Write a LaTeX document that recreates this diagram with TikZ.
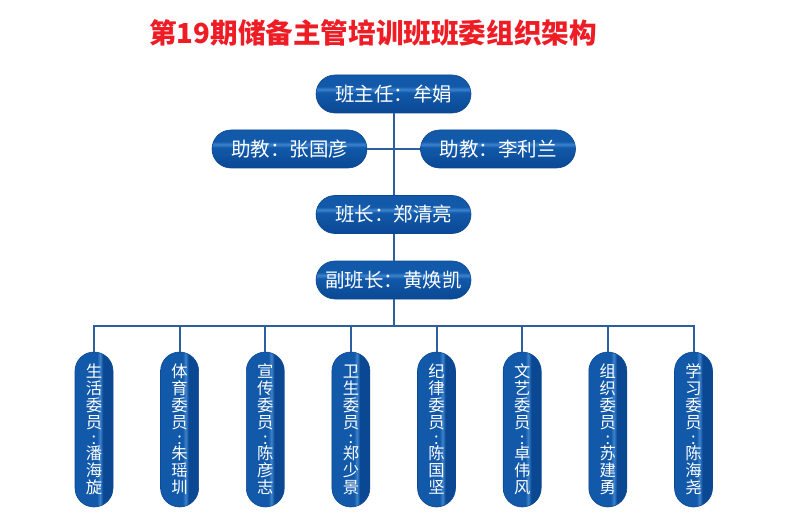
\documentclass[tikz,border=0pt]{standalone}
\usepackage{fontspec}
\newfontfamily\cjk{Noto Sans CJK SC}
\usetikzlibrary{shapes.misc}
\definecolor{pm}{HTML}{1259AA}
\definecolor{pdk}{HTML}{0A4893}
\definecolor{pl}{HTML}{3C82CC}
\definecolor{lc}{HTML}{2D5F9E}
\definecolor{tr}{HTML}{EE1C25}
\pgfdeclareverticalshading{pillv}{100bp}{color(0bp)=(pdk); color(25bp)=(pdk); color(52bp)=(pm); color(56bp)=(pl); color(60bp)=(pm); color(75bp)=(pm); color(100bp)=(pm)}
\pgfdeclarehorizontalshading{pillh}{100bp}{color(0bp)=(pm); color(25bp)=(pm); color(54bp)=(pm); color(58bp)=(pl); color(62bp)=(pdk); color(75bp)=(pdk); color(100bp)=(pdk)}
\newcommand\vlbl[7]{#1\\#2\\#3\\#4\\[-1.5pt]:\\[-1.5pt]#5\\#6\\#7}
\tikzset{
  hbox/.style={rounded rectangle, minimum width=155pt, minimum height=38pt, inner sep=0pt,
    shade, shading=pillv, draw=pdk, line width=0.6pt, text=white,
    font=\cjk\fontsize{19.5}{20}\selectfont},
  vbox/.style={rectangle, rounded corners=19pt, minimum width=38pt, minimum height=155pt, inner sep=0pt,
    shade, shading=pillh, draw=pdk, line width=0.6pt, text=white, align=center,
    font=\cjk\fontsize{16.3}{17}\selectfont},
  conn/.style={draw=lc, line width=2pt},
  title/.style={text=tr, font=\cjk\bfseries\fontsize{27.6}{30}\selectfont, inner sep=0pt}
}
\begin{document}
\begin{tikzpicture}[x=1pt,y=-1pt]
\useasboundingbox (0,0) rectangle (788,524);
\node[title] (t) at (373,33) {第19期储备主管培训班班委组织架构};
\node[hbox] (bzr) at (393.5,94) {班主任：牟娟};
\node[hbox] (zj1) at (289.5,149) {助教：张国彦};
\node[hbox] (zj2) at (498,149) {助教：李利兰};
\node[hbox] (bz) at (393.5,214.5) {班长：郑清亮};
\node[hbox] (fbz) at (393.5,280) {副班长：黄焕凯};
\coordinate (bus) at (393.5,325.7);
\node[vbox] (m1) at (94,429.5) {\vlbl{生}{活}{委}{员}{潘}{海}{旋}};
\node[vbox] (m2) at (179.6,429.5) {\vlbl{体}{育}{委}{员}{朱}{瑶}{圳}};
\node[vbox] (m3) at (265.3,429.5) {\vlbl{宣}{传}{委}{员}{陈}{彦}{志}};
\node[vbox] (m4) at (350.9,429.5) {\vlbl{卫}{生}{委}{员}{郑}{少}{景}};
\node[vbox] (m5) at (436.5,429.5) {\vlbl{纪}{律}{委}{员}{陈}{国}{坚}};
\node[vbox] (m6) at (522.2,429.5) {\vlbl{文}{艺}{委}{员}{卓}{伟}{风}};
\node[vbox] (m7) at (607.8,429.5) {\vlbl{组}{织}{委}{员}{苏}{建}{勇}};
\node[vbox] (m8) at (693.5,429.5) {\vlbl{学}{习}{委}{员}{陈}{海}{尧}};
\draw[conn] (bzr.south) -- (bz.north);
\draw[conn] (zj1.east) -- (zj2.west);
\draw[conn] (bz.south) -- (fbz.north);
\draw[conn] (fbz.south) -- (bus);
\foreach \m in {m1,m2,m3,m4,m5,m6,m7,m8} \draw[conn] (bus) -| (\m.north);
\end{tikzpicture}
\end{document}
